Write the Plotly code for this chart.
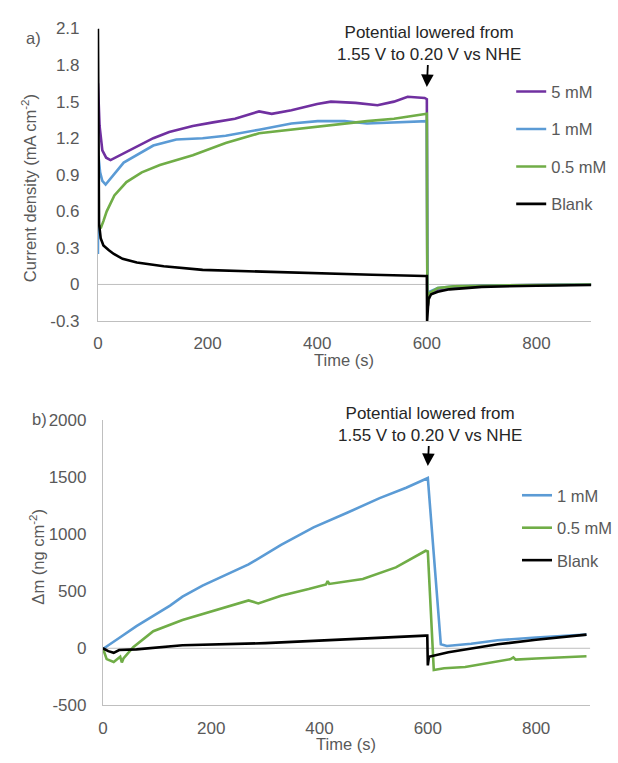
import plotly.graph_objects as go

# ---------------- Panel a: current density (mA cm^-2) ----------------
t_a_5mM = [0, 3, 8, 15, 23, 40, 70, 101, 130, 173, 210, 250, 294, 317, 353, 400, 425, 470, 510, 540, 565, 596, 600, 601, 605, 620, 650, 700, 800, 900]
j_5mM = [1.65, 1.3, 1.1, 1.04, 1.02, 1.06, 1.13, 1.2, 1.25, 1.30, 1.33, 1.36, 1.42, 1.40, 1.43, 1.48, 1.50, 1.49, 1.47, 1.50, 1.54, 1.53, 1.52, -0.2, -0.08, -0.04, -0.02, -0.01, -0.005, 0.0]

t_a_1mM = [0, 1, 4, 8, 14, 25, 47, 101, 143, 191, 233, 294, 353, 401, 450, 491, 540, 596, 600, 601, 605, 620, 650, 700, 800, 900]
j_1mM = [0.25, 1.05, 0.92, 0.85, 0.82, 0.88, 1.0, 1.14, 1.19, 1.20, 1.22, 1.27, 1.32, 1.34, 1.34, 1.32, 1.33, 1.34, 1.34, -0.15, -0.06, -0.03, -0.015, -0.01, -0.005, 0.0]

t_a_05mM = [0, 5, 10, 16, 30, 52, 80, 113, 173, 233, 294, 353, 407, 450, 491, 540, 596, 600, 601, 605, 620, 650, 700, 800, 900]
j_05mM = [0.5, 0.46, 0.52, 0.60, 0.73, 0.84, 0.92, 0.98, 1.06, 1.16, 1.24, 1.27, 1.30, 1.32, 1.34, 1.36, 1.40, 1.40, -0.2, -0.07, -0.03, -0.015, -0.01, -0.005, 0.0]

t_a_blank = [0, 1, 2, 5, 10, 20, 29, 45, 71, 120, 191, 300, 407, 500, 596, 600, 600.5, 603, 608, 620, 641, 700, 800, 900]
j_blank = [2.1, 0.9, 0.5, 0.38, 0.32, 0.28, 0.25, 0.21, 0.18, 0.15, 0.12, 0.105, 0.09, 0.08, 0.07, 0.07, -0.3, -0.12, -0.08, -0.06, -0.04, -0.02, -0.01, -0.005]

ticks_a = [-0.3, 0, 0.3, 0.6, 0.9, 1.2, 1.5, 1.8, 2.1]
ticktext_a = ["-0.3", "0", "0.3", "0.6", "0.9", "1.2", "1.5", "1.8", "2.1"]

# ---------------- Panel b: mass change (ng cm^-2) ----------------
t_b_1mM = [0, 2, 30, 62, 124, 147, 184, 230, 269, 329, 389, 451, 511, 560, 596, 600, 624, 635, 680, 729, 800, 893]
m_1mM = [0, 0, 90, 195, 375, 453, 550, 650, 736, 907, 1061, 1190, 1318, 1410, 1490, 1495, 35, 20, 40, 70, 95, 120]

t_b_05mM = [0, 7, 20, 32, 35, 38, 56, 93, 147, 207, 269, 287, 329, 380, 412, 415, 418, 480, 541, 596, 600, 611, 630, 669, 753, 758, 762, 800, 893]
m_05mM = [0, -95, -120, -75, -125, -90, 10, 150, 248, 334, 420, 394, 462, 520, 560, 590, 565, 608, 710, 856, 850, -190, -175, -165, -95, -80, -100, -90, -70]

t_b_blank = [0, 10, 20, 30, 62, 147, 300, 402, 500, 596, 599, 600, 602, 638, 729, 800, 893]
m_blank = [0, -25, -40, -15, -10, 26, 45, 70, 90, 111, 111, -150, -75, -35, 35, 75, 120]

ticks_b = [-500, 0, 500, 1000, 1500, 2000]
ticktext_b = ["-500", "0", "500", "1000", "1500", "2000"]

ticks_x = [0, 200, 400, 600, 800]

PURPLE = "#7030A0"
BLUE = "#5B9BD5"
GREEN = "#70AD47"
BLACK = "#000000"
GRAY_TXT = "#595959"
AXIS_GRAY = "#BFBFBF"
FONT = "Liberation Sans, Arial, sans-serif"
FS = 16.5
FS_TICK = 17
W, H = 618, 763

fig = go.Figure()
LW = 2.6
fig.add_trace(go.Scatter(x=t_a_5mM, y=j_5mM, mode="lines", name="5 mM", line=dict(color=PURPLE, width=LW),
                         xaxis="x", yaxis="y", legend="legend", legendgroup="a1"))
fig.add_trace(go.Scatter(x=t_a_1mM, y=j_1mM, mode="lines", name="1 mM", line=dict(color=BLUE, width=LW),
                         xaxis="x", yaxis="y", legend="legend", legendgroup="a2"))
fig.add_trace(go.Scatter(x=t_a_05mM, y=j_05mM, mode="lines", name="0.5 mM", line=dict(color=GREEN, width=LW),
                         xaxis="x", yaxis="y", legend="legend", legendgroup="a3"))
fig.add_trace(go.Scatter(x=t_a_blank, y=j_blank, mode="lines", name="Blank", line=dict(color=BLACK, width=LW),
                         xaxis="x", yaxis="y", legend="legend", legendgroup="a4"))

fig.add_trace(go.Scatter(x=t_b_1mM, y=m_1mM, mode="lines", name="1 mM", line=dict(color=BLUE, width=LW),
                         xaxis="x2", yaxis="y2", legend="legend2", legendgroup="b1"))
fig.add_trace(go.Scatter(x=t_b_05mM, y=m_05mM, mode="lines", name="0.5 mM", line=dict(color=GREEN, width=LW),
                         xaxis="x2", yaxis="y2", legend="legend2", legendgroup="b2"))
fig.add_trace(go.Scatter(x=t_b_blank, y=m_blank, mode="lines", name="Blank", line=dict(color=BLACK, width=LW),
                         xaxis="x2", yaxis="y2", legend="legend2", legendgroup="b3"))

axis_common = dict(showgrid=False, showline=True, linecolor=AXIS_GRAY, linewidth=1, ticks="",
                   tickfont=dict(family=FONT, size=FS_TICK, color=GRAY_TXT), zeroline=False)

fig.update_layout(
    width=W, height=H,
    margin=dict(l=0, r=0, t=0, b=0),
    paper_bgcolor="white", plot_bgcolor="white",
    font=dict(family=FONT, size=FS, color=GRAY_TXT),
    xaxis=dict(domain=[94 / W, 593 / W], range=[0, 900], tickvals=ticks_x, anchor="y",
               ticklabelstandoff=7, **axis_common),
    yaxis=dict(domain=[1 - 320 / H, 1 - 20 / H], range=[-0.3, 2.1], tickvals=ticks_a, ticktext=ticktext_a,
               anchor="x", ticklabelstandoff=14, **axis_common),
    xaxis2=dict(domain=[99 / W, 592 / W], range=[0, 900], tickvals=ticks_x, anchor="y2",
                ticklabelstandoff=7, **axis_common),
    yaxis2=dict(domain=[1 - 714 / H, 1 - 422 / H], range=[-500, 2000], tickvals=ticks_b, ticktext=ticktext_b,
                anchor="x2", ticklabelstandoff=12, **axis_common),
    legend=dict(x=512 / W, y=1 - 67 / H, xanchor="left", yanchor="top", tracegroupgap=13,
                font=dict(family=FONT, size=FS, color=GRAY_TXT), bgcolor="rgba(0,0,0,0)"),
    legend2=dict(x=518 / W, y=1 - 481 / H, xanchor="left", yanchor="top", tracegroupgap=8,
                 font=dict(family=FONT, size=FS, color=GRAY_TXT), bgcolor="rgba(0,0,0,0)"),
    showlegend=True,
)

# zero lines
fig.add_shape(type="line", xref="x", yref="y", x0=0, x1=900, y0=0, y1=0,
              line=dict(color=AXIS_GRAY, width=1), layer="below")
fig.add_shape(type="line", xref="x2", yref="y2", x0=0, x1=900, y0=0, y1=0,
              line=dict(color=AXIS_GRAY, width=1), layer="below")

note = "Potential lowered from<br>1.55 V to 0.20 V vs NHE"
ann = []
ann.append(dict(text=note, x=600, y=1.62, xref="x", yref="y", ax=2, ay=-44, showarrow=True,
                arrowhead=2, arrowsize=1.4, arrowwidth=1.8, arrowcolor="#000000",
                font=dict(family=FONT, size=17, color="#262626")))
ann.append(dict(text=note, x=600, y=1600, xref="x2", yref="y2", ax=2, ay=-42, showarrow=True,
                arrowhead=2, arrowsize=1.4, arrowwidth=1.8, arrowcolor="#000000",
                font=dict(family=FONT, size=17, color="#262626")))


def label(text, px, py, angle=0):
    return dict(text=text, x=px / W, y=1 - py / H, xref="paper", yref="paper",
                xanchor="center", yanchor="middle", textangle=angle, showarrow=False,
                font=dict(family=FONT, size=FS, color=GRAY_TXT))


ann.append(label("Current density (mA cm<sup>-2</sup>)", 25, 184, -90))
ann.append(label("Δm (ng cm<sup>-2</sup>)", 32, 562, -90))
ann.append(label("Time (s)", 343, 360))
ann.append(label("Time (s)", 345, 754))
ann.append(label("a)", 29, 30))
ann.append(label("b)", 35, 420))
fig.update_layout(annotations=ann)

fig.write_html("out.html")
